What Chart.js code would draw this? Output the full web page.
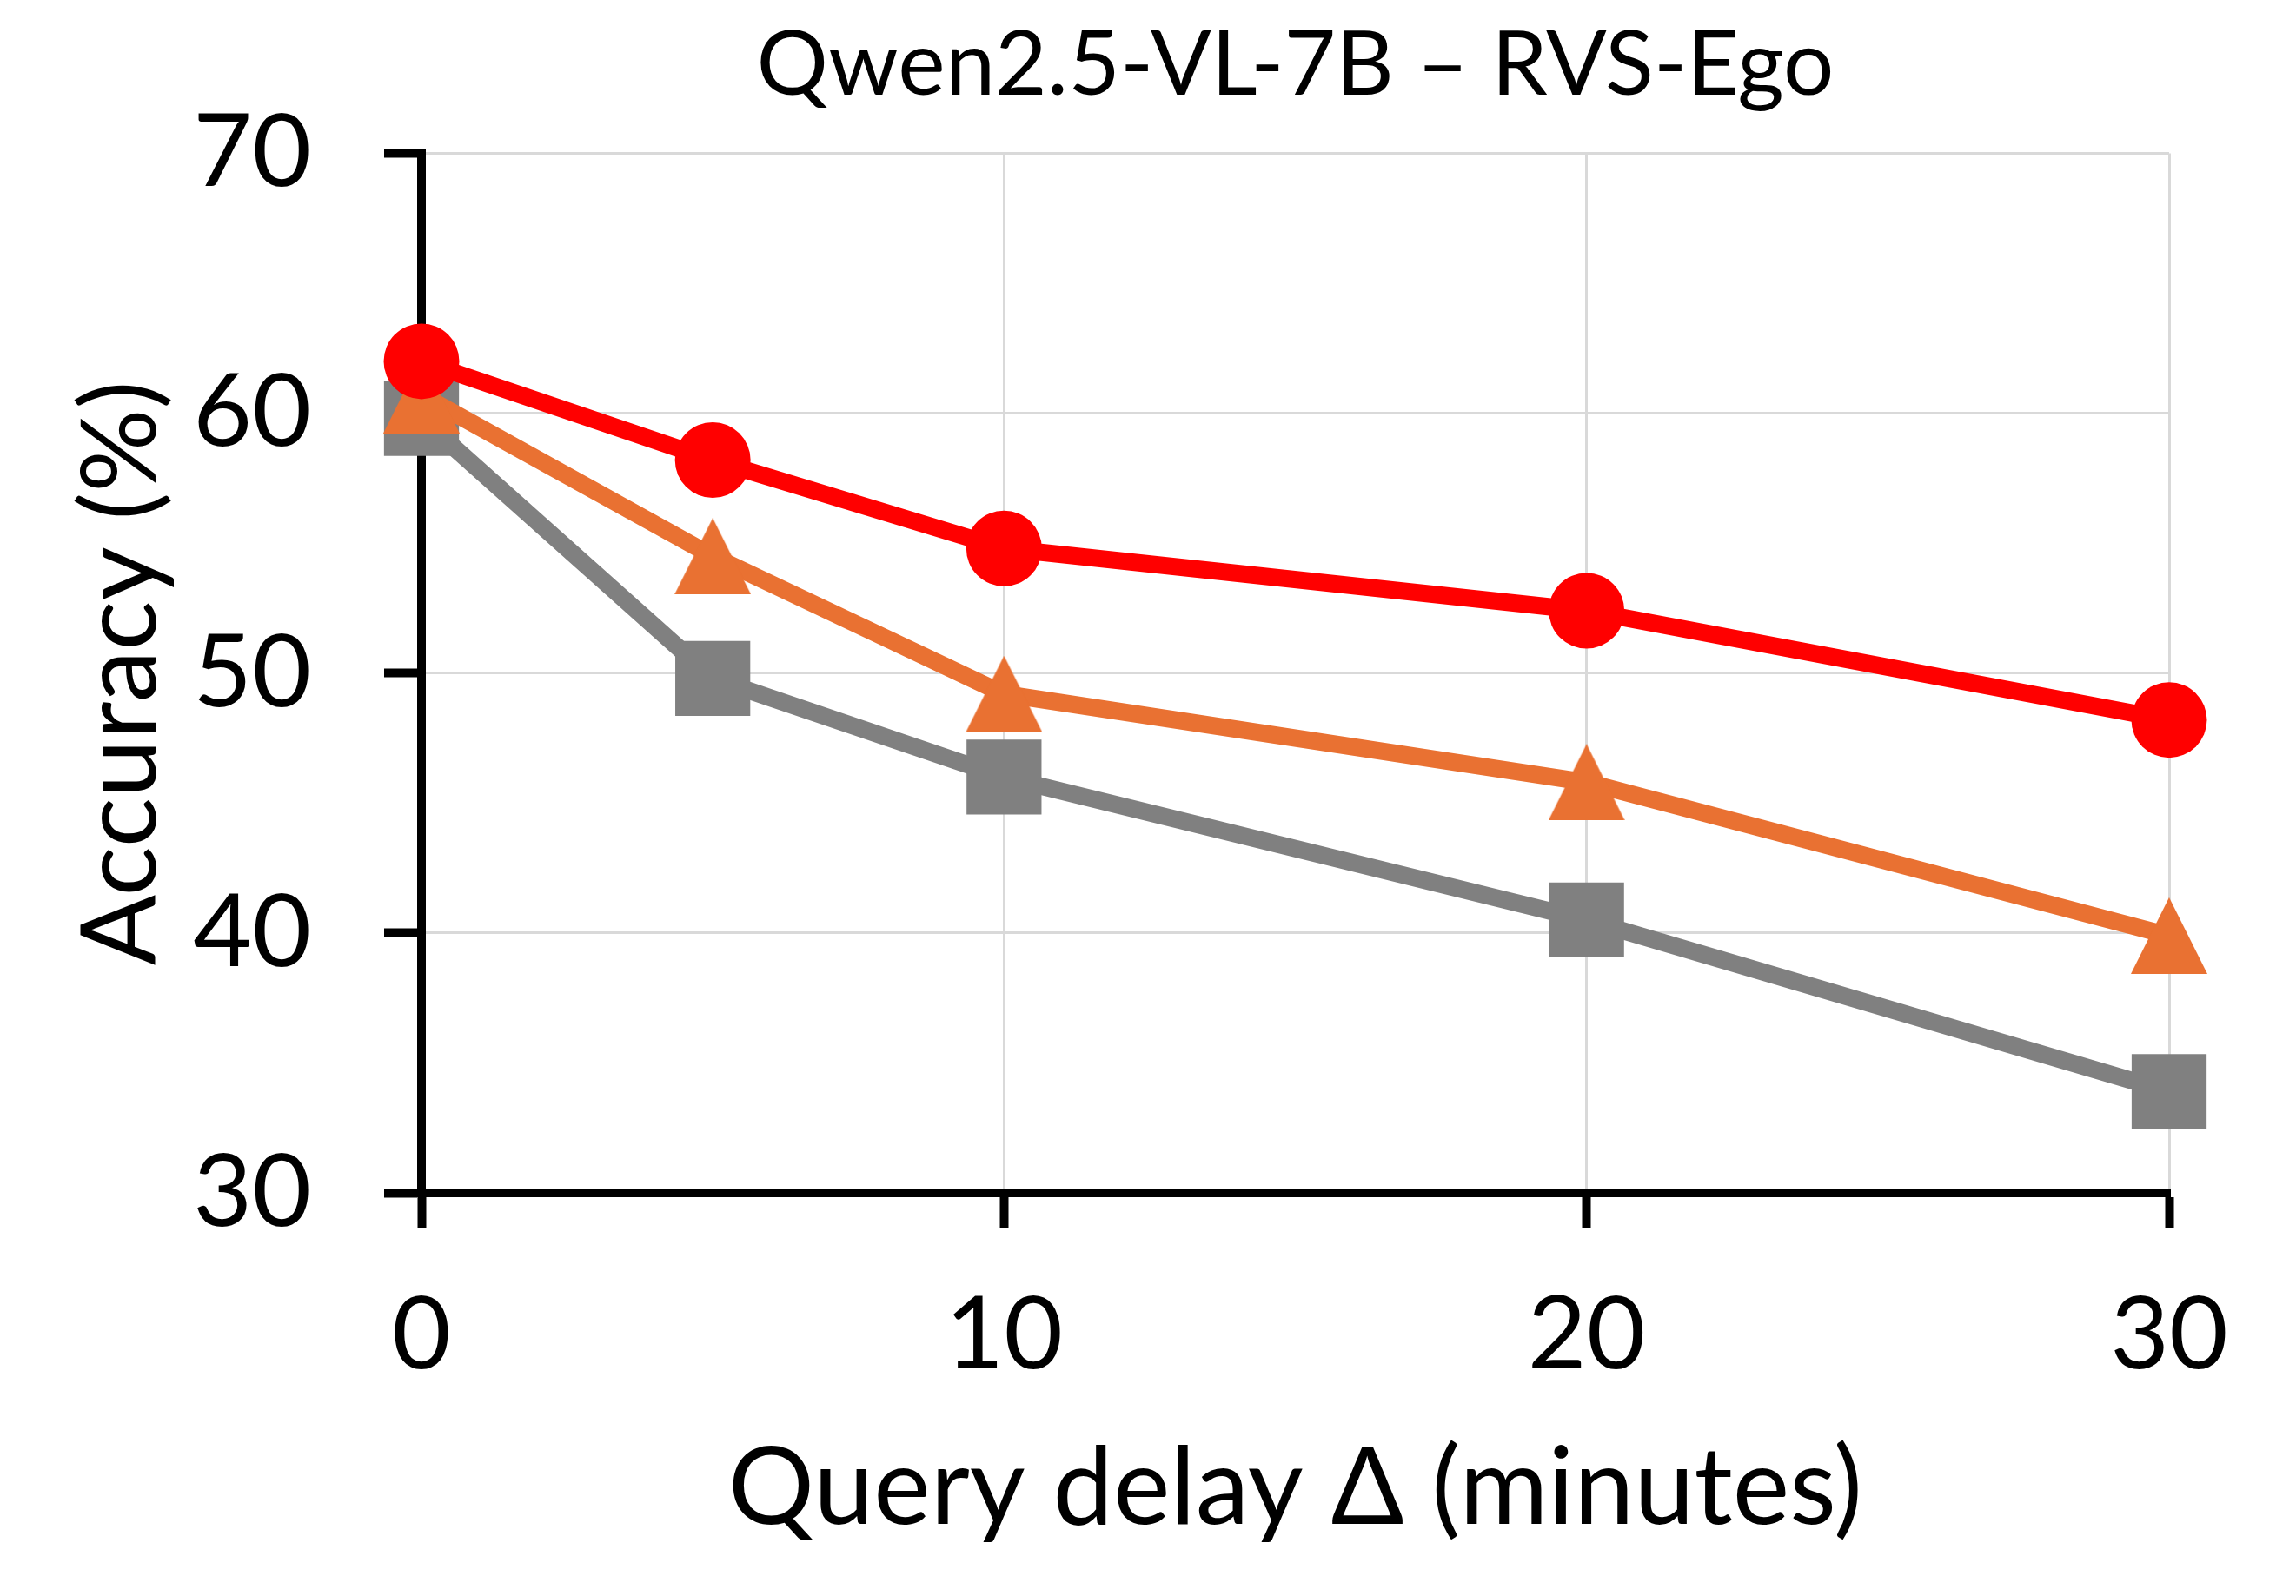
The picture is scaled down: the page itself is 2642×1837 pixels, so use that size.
<!DOCTYPE html>
<html lang="en">
<head>
<meta charset="UTF-8">
<title>Qwen2.5-VL-7B – RVS-Ego</title>
<script src="https://cdn.jsdelivr.net/npm/chart.js"></script>
<style>
  html, body { margin: 0; padding: 0; background: #fff; }
</style>
</head>
<body>
<canvas id="delayChart" width="2642" height="1837"></canvas>
<script>
// values
const delays = [0, 5, 10, 20, 30];
const redAcc = [62.0, 58.2, 54.8, 52.4, 48.2];
const orangeAcc = [60.7, 54.5, 49.2, 45.8, 39.9];
const grayAcc = [59.8, 49.8, 46.0, 40.5, 33.9];
const xTicks = [0, 10, 20, 30];
const yTicks = [30, 40, 50, 60, 70];

const RED = '#FF0000';
const ORANGE = '#E97132';
const GRAY = '#808080';
const FONT = 'Lato';

// Excel-style triangle marker (isosceles, centred on its box)
function makeTriangle(size, color) {
    const c = document.createElement('canvas');
    c.width = size;
    c.height = size;
    const g = c.getContext('2d');
    g.fillStyle = color;
    g.beginPath();
    g.moveTo(size / 2, 0);
    g.lineTo(size, size);
    g.lineTo(0, size);
    g.closePath();
    g.fill();
    return c;
}

function toPoints(values) {
    return values.map((v, i) => ({ x: delays[i], y: v }));
}

const ctx = document.getElementById('delayChart').getContext('2d');
new Chart(ctx, {
    type: 'line',
    data: {
        datasets: [
            {
                label: 'red',
                data: toPoints(redAcc),
                borderColor: RED,
                backgroundColor: RED,
                borderWidth: 20,
                pointStyle: 'circle',
                pointRadius: 43.5,
                pointBorderWidth: 0,
                clip: false
            },
            {
                label: 'orange',
                data: toPoints(orangeAcc),
                borderColor: ORANGE,
                backgroundColor: ORANGE,
                borderWidth: 20,
                pointStyle: makeTriangle(88, ORANGE),
                pointRadius: 44,
                pointBorderWidth: 0,
                clip: false
            },
            {
                label: 'gray',
                data: toPoints(grayAcc),
                borderColor: GRAY,
                backgroundColor: GRAY,
                borderWidth: 20,
                pointStyle: 'rect',
                pointRadius: 61,
                pointBorderWidth: 0,
                clip: false
            }
        ]
    },
    options: {
        responsive: false,
        devicePixelRatio: 1,
        animation: false,
        layout: {
            padding: { left: 0, right: 146, top: 0, bottom: 0 }
        },
        plugins: {
            legend: { display: false },
            tooltip: { enabled: false },
            title: {
                display: true,
                text: 'Qwen2.5-VL-7B – RVS-Ego',
                fullSize: false,
                color: '#000',
                font: { family: FONT, size: 103, weight: 'normal' },
                padding: { top: 14, bottom: 39 }
            }
        },
        scales: {
            x: {
                type: 'linear',
                min: 0,
                max: 30,
                afterBuildTicks: s => { s.ticks = xTicks.map(v => ({ value: v })); },
                afterFit: s => { s.height = 464; },
                grid: {
                    color: '#D9D9D9',
                    lineWidth: 3,
                    tickColor: '#000',
                    tickWidth: 10,
                    tickLength: 41
                },
                border: { color: '#000', width: 10 },
                ticks: {
                    color: '#000',
                    padding: 53,
                    maxRotation: 0,
                    font: { family: FONT, size: 117 }
                },
                title: {
                    display: true,
                    text: 'Query delay Δ (minutes)',
                    color: '#000',
                    font: { family: FONT, size: 124 },
                    padding: { top: 0, bottom: 49 }
                }
            },
            y: {
                min: 30,
                max: 70,
                afterBuildTicks: s => { s.ticks = yTicks.map(v => ({ value: v })); },
                afterFit: s => { s.width = 485; },
                grid: {
                    color: '#D9D9D9',
                    lineWidth: 3,
                    tickColor: '#000',
                    tickWidth: 10,
                    tickLength: 43
                },
                border: { color: '#000', width: 10 },
                ticks: {
                    color: '#000',
                    padding: 84,
                    font: { family: FONT, size: 117 }
                },
                title: {
                    display: true,
                    text: 'Accuracy (%)',
                    color: '#000',
                    font: { family: FONT, size: 120 },
                    padding: { top: 68, bottom: 0 }
                }
            }
        }
    }
});
</script>
</body>
</html>
